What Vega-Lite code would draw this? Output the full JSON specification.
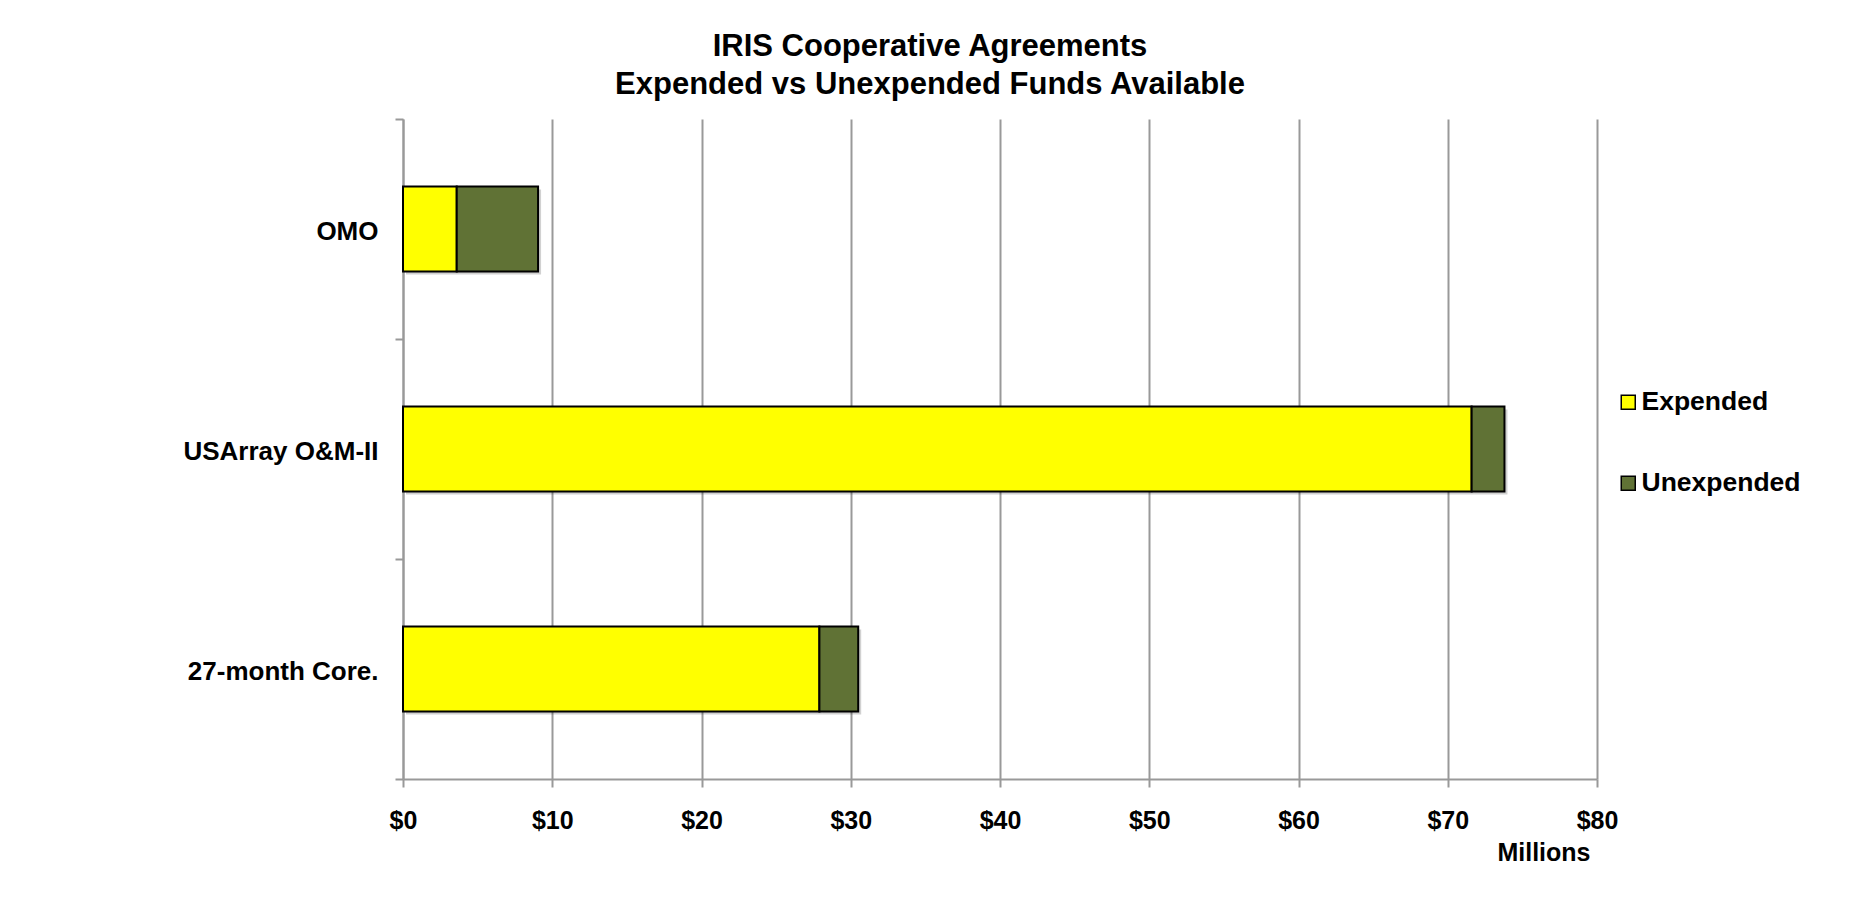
{
  "$schema": "https://vega.github.io/schema/vega-lite/v6.json",
  "autosize": "none",
  "width": 1194,
  "height": 660,
  "padding": {"left": 403, "top": 119, "right": 263, "bottom": 130},
  "background": "white",
  "title": {
    "text": ["IRIS Cooperative Agreements", "Expended vs Unexpended Funds Available"],
    "font": "Liberation Sans",
    "fontSize": 31,
    "fontWeight": "bold",
    "color": "black",
    "lineHeight": 38,
    "anchor": "middle",
    "dx": -70,
    "offset": 5
  },
  "data": {
    "values": [
      {"agreement": "OMO", "type": "Expended", "amount": 3.6},
      {"agreement": "OMO", "type": "Unexpended", "amount": 5.45},
      {"agreement": "USArray O&M-II", "type": "Expended", "amount": 71.6},
      {"agreement": "USArray O&M-II", "type": "Unexpended", "amount": 2.2},
      {"agreement": "27-month Core.", "type": "Expended", "amount": 27.9},
      {"agreement": "27-month Core.", "type": "Unexpended", "amount": 2.6}
    ]
  },
  "encoding": {
    "y": {
      "field": "agreement",
      "type": "nominal",
      "sort": ["OMO", "USArray O&M-II", "27-month Core."],
      "scale": {"paddingInner": 0, "paddingOuter": 0},
      "axis": {
        "title": null,
        "labelFont": "Liberation Sans",
        "labelFontSize": 26,
        "labelFontWeight": "bold",
        "labelColor": "black",
        "labelPadding": 17,
        "labelLimit": 400,
        "labelOffset": 2,
        "tickBand": "extent",
        "ticks": true,
        "tickSize": 8,
        "tickColor": "#999999",
        "tickWidth": 2,
        "domainColor": "#999999",
        "domainWidth": 2,
        "grid": false
      }
    },
    "x": {
      "field": "amount",
      "type": "quantitative",
      "stack": "zero",
      "scale": {"domain": [0, 80], "nice": false},
      "axis": {
        "values": [0, 10, 20, 30, 40, 50, 60, 70, 80],
        "format": "$.0f",
        "title": "Millions",
        "titleFont": "Liberation Sans",
        "titleFontSize": 25,
        "titleFontWeight": "bold",
        "titleColor": "black",
        "titleAnchor": "end",
        "titleAlign": "right",
        "titleX": 1187,
        "titleY": 81,
        "titleBaseline": "alphabetic",
        "labelFont": "Liberation Sans",
        "labelFontSize": 25,
        "labelFontWeight": "bold",
        "labelColor": "black",
        "labelPadding": 21,
        "labelFlush": false,
        "tickSize": 8,
        "tickColor": "#999999",
        "tickWidth": 2,
        "domainColor": "#999999",
        "domainWidth": 2,
        "grid": true,
        "gridColor": "#999999",
        "gridWidth": 2,
        "gridOpacity": 1
      }
    },
    "order": {"field": "type", "sort": "ascending"}
  },
  "layer": [
    {
      "mark": {"type": "bar", "height": {"band": 0.386}, "fill": "black", "opacity": 0.18, "xOffset": 3, "yOffset": 3}
    },
    {
      "mark": {"type": "bar", "height": {"band": 0.386}, "stroke": "black", "strokeWidth": 2},
      "encoding": {
        "color": {
          "field": "type",
          "type": "nominal",
          "scale": {"domain": ["Expended", "Unexpended"], "range": ["#FFFF00", "#607235"]},
          "legend": {
            "title": null,
            "orient": "none",
            "legendX": 1212,
            "legendY": 270,
            "symbolType": "square",
            "symbolSize": 196,
            "symbolStrokeColor": "black",
            "symbolStrokeWidth": 1.5,
            "symbolOpacity": 1,
            "labelFont": "Liberation Sans",
            "labelFontSize": 26.5,
            "labelFontWeight": "bold",
            "labelColor": "black",
            "labelOffset": 0,
            "labelLimit": 400,
            "rowPadding": 54
          }
        }
      }
    }
  ],
  "config": {"view": {"stroke": null}}
}
